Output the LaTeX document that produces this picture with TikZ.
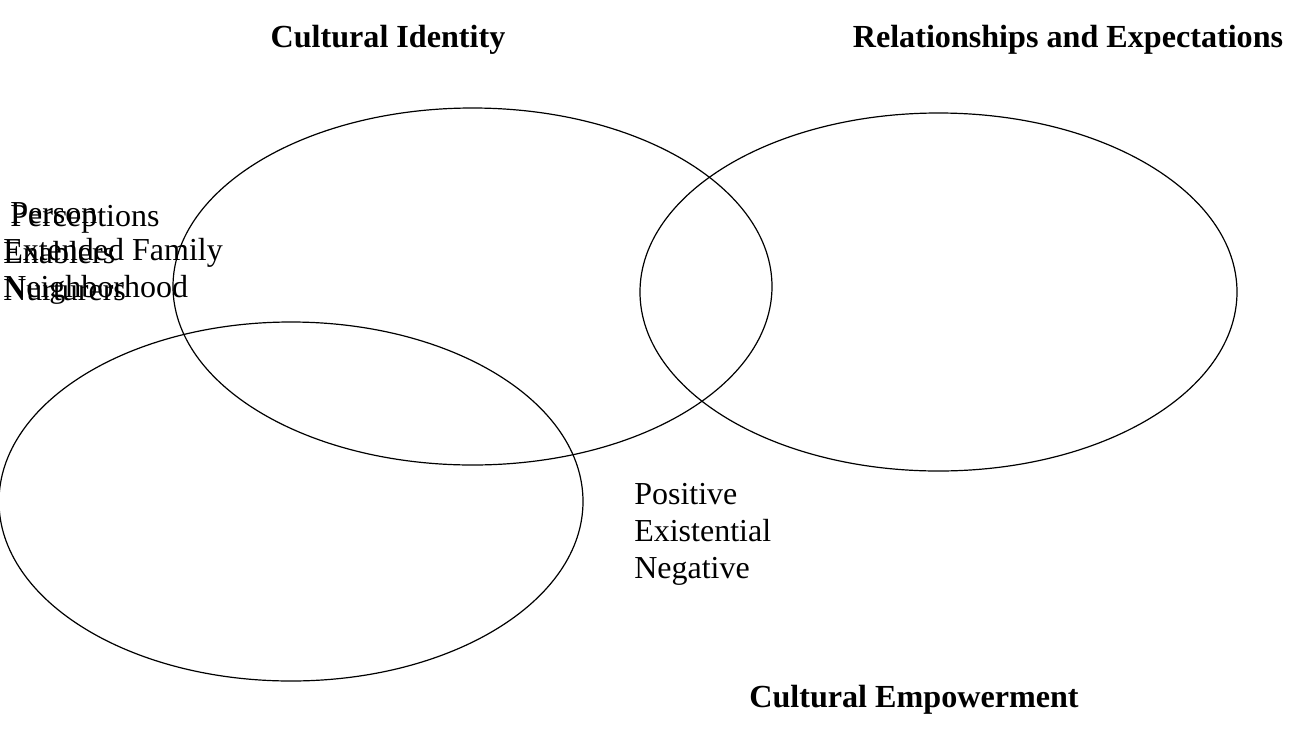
\documentclass[tikz,border=0pt]{standalone}
\usepackage{fontspec}
\setmainfont{Liberation Serif}
\usetikzlibrary{calc}

\begin{document}
\begin{tikzpicture}[x=0.75pt,y=-0.75pt]
\tikzset{
	set line/.style = {draw, line width = 0.9pt},
	title text/.style = {font = \fontsize{24.1}{28}\selectfont\bfseries, inner sep = 0, anchor = base},
	item text/.style = {font = \fontsize{24}{28}\selectfont, inner sep = 0, anchor = base west},
}
\useasboundingbox (0,0) rectangle (1290,729);

\coordinate (identity) at (472.5,286.5);
\coordinate (relation) at (938.5,292);
\coordinate (empower) at (291,501.5);

\draw[set line] (identity) ellipse [x radius = 299.5, y radius = 178.5];
\draw[set line] (relation) ellipse [x radius = 298.5, y radius = 179];
\draw[set line] (empower) ellipse [x radius = 292, y radius = 179.5];

\node[title text] (identity title) at (388,47) {Cultural Identity};
\node[title text] (relation title) at (1068,47) {Relationships and Expectations};
\node[title text] (empower title) at (914,707) {Cultural Empowerment};

\foreach \txt/\xx [count=\i] in {Person/10, Extended Family/3, Neighborhood/3}
	\node[item text] (who-\i) at (\xx,{186.5+37*\i}) {\txt};

\foreach \txt/\xx [count=\i] in {Perceptions/10, Enablers/3, Nurturers/3}
	\node[item text] (role-\i) at (\xx,{189.5+37*\i}) {\txt};

\foreach \txt [count=\i] in {Positive, Existential, Negative}
	\node[item text] (kind-\i) at (634,{467+37*\i}) {\txt};

\end{tikzpicture}
\end{document}
